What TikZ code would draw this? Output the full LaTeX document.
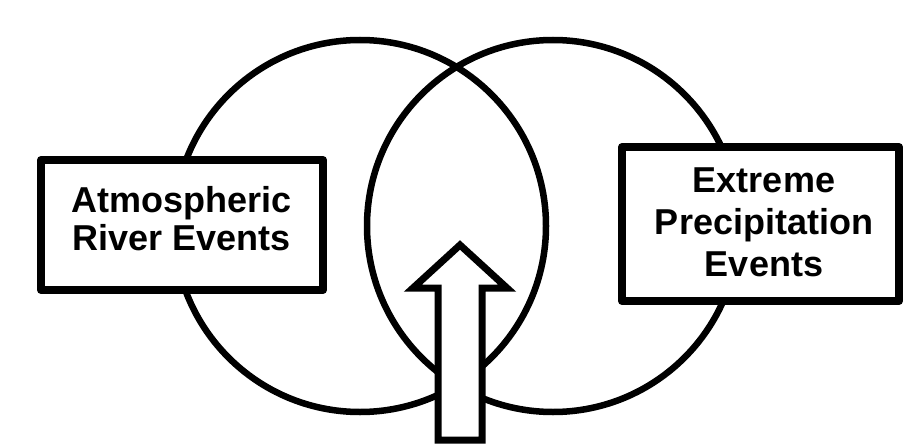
\documentclass[tikz,border=0pt]{standalone}
\usepackage{fontspec}
\setmainfont{Liberation Sans}
\begin{document}
\begin{tikzpicture}[x=1pt,y=-1pt,
  venn/.style={draw=black,line width=6.5pt},
  labelbox/.style={draw=black,fill=white,line width=8pt,line join=round,inner sep=0pt},
  labeltext/.style={align=center,inner sep=0pt,font=\fontsize{36}{#1}\selectfont\bfseries},
  bigarrow/.style={draw=black,fill=white,line width=7pt,line join=miter}]
\useasboundingbox (0,0) rectangle (905,444);
\fill[white] (0,0) rectangle (905,444);
\draw[venn] (360,226) circle[radius=186];
\draw[venn] (553,226) circle[radius=186];
\node[labelbox, minimum width=282pt, minimum height=130pt] (ar) at (182,225) {};
\node[labeltext=38] (artext) at (181.5,219) {Atmospheric\\River Events};
\node[labelbox, minimum width=277pt, minimum height=154pt] (ep) at (760.5,224) {};
\node[labeltext=42] (eptext) at (764,222) {Extreme\\Precipitation\\Events};
\draw[bigarrow] (460,245) -- (507,288) -- (482,288) -- (482,440) -- (438,440) -- (438,288) -- (413,288) -- cycle;
\end{tikzpicture}
\end{document}
